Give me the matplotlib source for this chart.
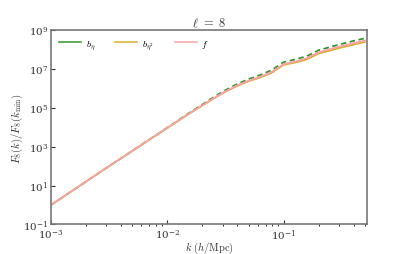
import matplotlib
matplotlib.use('Agg')
import matplotlib.pyplot as plt
import numpy as np
from matplotlib.lines import Line2D
from matplotlib.ticker import LogLocator, NullLocator

plt.rcParams['mathtext.fontset'] = 'cm'
plt.rcParams['font.family'] = 'DejaVu Serif'

# k values (h/Mpc) and log10 of F_8(k)/F_8(k_min)
k = [1e-3, 10**-2.5, 1e-2, 10**-1.8, 10**-1.6, 10**-1.5, 10**-1.4, 10**-1.3,
     10**-1.2, 10**-1.1, 1e-1, 10**-0.9, 10**-0.8, 10**-0.7, 10**-0.6,
     10**-0.5, 10**-0.4, 10**-0.3]
logF_f = [0.0, 2.0, 3.97, 4.75, 5.5, 5.85, 6.15, 6.4,
          6.6, 6.85, 7.25, 7.38, 7.55, 7.85, 8.02,
          8.18, 8.32, 8.46]
logF_beta = [0.0, 2.0, 3.98, 4.78, 5.55, 5.91, 6.22, 6.48,
             6.69, 6.95, 7.35, 7.49, 7.66, 7.96, 8.13,
             8.29, 8.44, 8.58]
logF_beta2 = [0.0, 2.0, 3.96, 4.74, 5.48, 5.83, 6.12, 6.37,
              6.56, 6.81, 7.21, 7.33, 7.49, 7.79, 7.95,
              8.11, 8.25, 8.39]

c_green = '#2f962f'
c_yellow = '#dcae2a'
c_pink = '#f5a3a8'

fig = plt.figure(figsize=(4.07, 2.55), dpi=100)
ax = fig.add_axes([0.1253, 0.116, 0.776, 0.762])

ax.plot(k, 10**np.array(logF_beta), color=c_green, lw=1.3, ls=(0, (3, 2)))
ax.plot(k, 10**np.array(logF_beta2), color=c_yellow, lw=1.3)
ax.plot(k, 10**np.array(logF_f), color=c_pink, lw=1.3)

ax.set_xscale('log')
ax.set_yscale('log')
ax.set_xlim(1e-3, 0.52)
ax.set_ylim(1e-1, 1e9)
ax.yaxis.set_major_locator(LogLocator(base=100.0, subs=(0.1,)))
ax.yaxis.set_minor_locator(NullLocator())
ax.tick_params(direction='in', labelsize=7.5, colors='#333333', width=0.8, pad=2)
ax.tick_params(which='major', length=3)
ax.tick_params(which='minor', length=1.5)
for s in ax.spines.values():
    s.set_color('#777777')
    s.set_linewidth(1.2)

ax.set_title(r'$\ell\ =\ 8$', fontsize=9, pad=3, color='#333333')
ax.set_xlabel(r'$k\ (h/\mathrm{Mpc})$', fontsize=7.5, labelpad=-1.5, color='#333333')
ax.set_ylabel(r'$F_8(k)/F_8(k_\mathrm{min})$', fontsize=7.8, color='#333333')
ax.yaxis.set_label_coords(-0.083, 0.5)

handles = [Line2D([], [], color=c_green, lw=1.1),
           Line2D([], [], color=c_yellow, lw=1.1),
           Line2D([], [], color=c_pink, lw=1.1)]
ax.legend(handles, [r'$b_\eta$', r'$b_{\eta^2}$', r'$f$'], ncol=3, frameon=False,
          loc='upper left', fontsize=7, columnspacing=2.1, handlelength=2.25,
          handletextpad=0.5, borderaxespad=0.4)

fig.savefig('out.png', dpi=100)
